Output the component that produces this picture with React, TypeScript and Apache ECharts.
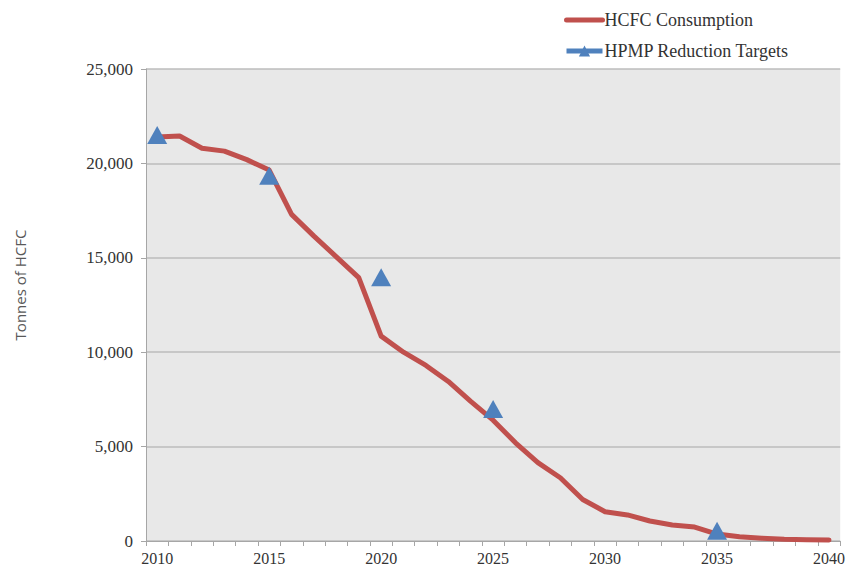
import React, { useEffect, useRef } from "react";
import * as echarts from "echarts";

const years: string[] = [
  "2010", "2011", "2012", "2013", "2014", "2015", "2016", "2017", "2018", "2019",
  "2020", "2021", "2022", "2023", "2024", "2025", "2026", "2027", "2028", "2029",
  "2030", "2031", "2032", "2033", "2034", "2035", "2036", "2037", "2038", "2039", "2040",
];

const consumption: number[] = [
  21400, 21450, 20800, 20650, 20200, 19650, 17300, 16150, 15050, 13950,
  10850, 10000, 9300, 8450, 7400, 6400, 5200, 4150, 3350, 2200,
  1550, 1380, 1060, 850, 740, 370, 220, 150, 90, 60, 50,
];

const targets: (number | null)[] = [
  21500, null, null, null, null, 19350, null, null, null, null,
  13975, null, null, null, null, 6990, null, null, null, null,
  null, null, null, null, null, 538, null, null, null, null, null,
];

const yTicks = { min: 0, max: 25000, interval: 5000 };

const RED = "#C0504D";
const BLUE = "#4F81BD";
const SERIF = "'Liberation Serif', 'Times New Roman', serif";

export default function App() {
  const ref = useRef<HTMLDivElement>(null);

  useEffect(() => {
    document.body.style.margin = "0";
    if (!ref.current) return;
    const chart = echarts.init(ref.current, undefined, { renderer: "svg" });
    chart.setOption({
      animation: false,
      backgroundColor: "#ffffff",
      grid: {
        left: 146,
        right: 6,
        top: 69,
        bottom: 29,
        show: true,
        backgroundColor: "#E8E8E8",
        borderWidth: 0,
        containLabel: false,
      },
      legend: {
        orient: "vertical",
        left: 559,
        top: 6,
        itemWidth: 36,
        itemHeight: 14,
        itemGap: 13,
        textStyle: { fontFamily: SERIF, fontSize: 18, color: "#333333", padding: [0, 0, 0, -3] },
        data: [
          {
            name: "HCFC Consumption",
            itemStyle: { opacity: 0 },
            lineStyle: { width: 5, color: RED, opacity: 1 },
          },
          {
            name: "HPMP Reduction Targets",
            lineStyle: { width: 5, color: BLUE, opacity: 1 },
          },
        ],
      },
      xAxis: {
        type: "category",
        data: years,
        boundaryGap: true,
        axisLine: { show: true, lineStyle: { color: "#A6A6A6", width: 1 } },
        axisTick: { show: true, interval: 0, length: 5, lineStyle: { color: "#A6A6A6" } },
        axisLabel: {
          interval: 4,
          margin: 9,
          fontFamily: SERIF,
          fontSize: 16,
          color: "#333333",
        },
        splitLine: { show: false },
      },
      yAxis: {
        type: "value",
        min: yTicks.min,
        max: yTicks.max,
        interval: yTicks.interval,
        axisLine: { show: true, lineStyle: { color: "#A6A6A6", width: 1 } },
        axisTick: { show: true, length: 5, lineStyle: { color: "#A6A6A6" } },
        axisLabel: {
          margin: 13,
          fontFamily: SERIF,
          fontSize: 17,
          color: "#333333",
          formatter: (v: number) => v.toLocaleString("en-US"),
        },
        splitLine: { show: true, lineStyle: { color: "#BDBDBD", width: 1.5 } },
      },
      graphic: [
        {
          type: "text",
          x: 20,
          y: 285,
          rotation: Math.PI / 2,
          style: {
            text: "Tonnes of HCFC",
            fontFamily: "'Open Sans', sans-serif",
            fontSize: 15,
            fill: "#595959",
            textAlign: "center",
            textVerticalAlign: "middle",
          },
        },
      ],
      series: [
        {
          name: "HCFC Consumption",
          type: "line",
          data: consumption,
          symbol: "none",
          z: 2,
          lineStyle: { color: RED, width: 5, cap: "round", join: "round" },
          itemStyle: { color: RED },
        },
        {
          name: "HPMP Reduction Targets",
          type: "line",
          data: targets,
          connectNulls: false,
          symbol: "triangle",
          symbolSize: [20, 18],
          showAllSymbol: true,
          z: 3,
          lineStyle: { width: 0, color: BLUE, opacity: 0 },
          itemStyle: { color: BLUE },
        },
      ],
    });
    return () => chart.dispose();
  }, []);

  return <div ref={ref} style={{ width: 848, height: 570 }} />;
}
